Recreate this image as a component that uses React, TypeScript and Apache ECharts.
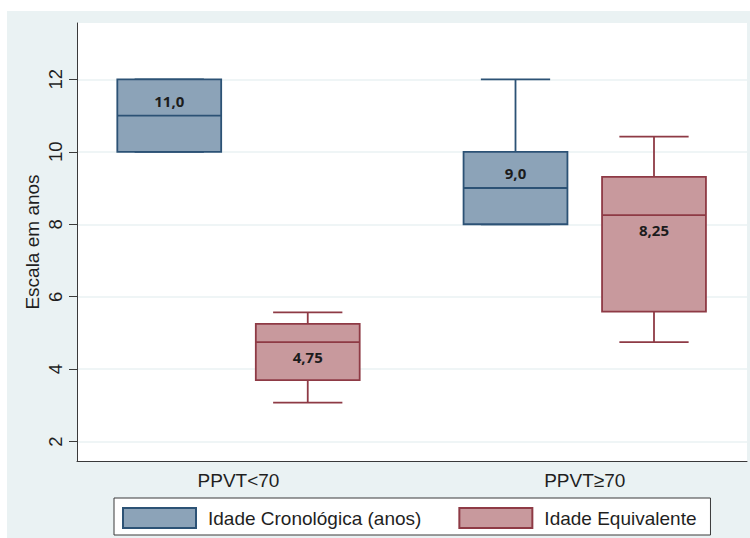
import React, { useEffect, useRef } from "react";
import * as echarts from "echarts";

// ---- data ----
const categories = ["PPVT<70", "PPVT≥70"];
const seriesNames = ["Idade Cronológica (anos)", "Idade Equivalente"];
// [groupIndex, min, Q1, median, Q3, max]
const cronologica = [
  [0, 10, 10, 11, 12, 12],
  [1, 8, 8, 9, 10, 12],
];
const equivalente = [
  [0, 3.08, 3.7, 4.75, 5.25, 5.57],
  [1, 4.75, 5.59, 8.25, 9.31, 10.42],
];
const medianDecimals = [1, 2];
const yTicks = { min: 2, max: 12, interval: 2 };

// ---- styles ----
const FONT = '"Liberation Sans", Arial, sans-serif';
const fills = ["#8ca3b8", "#c8999d"];
const strokes = ["#2c5275", "#8e3a45"];
const offsets = [-0.2, 0.2];
const BOX_W = 0.3;
const CAP_W = 0.2;
const labelDir = [-1, 1];

export default function App() {
  const ref = useRef<HTMLDivElement>(null);
  useEffect(() => {
    if (!ref.current) return;
    const chart = echarts.init(ref.current, null, { renderer: "svg" });
    const renderItem = (params: any, api: any) => {
      const si = params.seriesIndex;
      const x = api.value(0) + offsets[si];
      const lo = api.coord([x, api.value(1)]);
      const q1 = api.coord([x, api.value(2)]);
      const med = api.coord([x, api.value(3)]);
      const q3 = api.coord([x, api.value(4)]);
      const hi = api.coord([x, api.value(5)]);
      const bw = api.size([BOX_W, 0])[0];
      const cw = api.size([CAP_W, 0])[0];
      const cx = med[0];
      const lineStyle = { stroke: strokes[si], lineWidth: 1.8 };
      const label = api
        .value(3)
        .toFixed(medianDecimals[si])
        .replace(".", ",");
      return {
        type: "group",
        children: [
          { type: "line", shape: { x1: cx, y1: q1[1], x2: cx, y2: lo[1] }, style: lineStyle },
          { type: "line", shape: { x1: cx - cw / 2, y1: lo[1], x2: cx + cw / 2, y2: lo[1] }, style: lineStyle },
          { type: "line", shape: { x1: cx, y1: q3[1], x2: cx, y2: hi[1] }, style: lineStyle },
          { type: "line", shape: { x1: cx - cw / 2, y1: hi[1], x2: cx + cw / 2, y2: hi[1] }, style: lineStyle },
          {
            type: "rect",
            shape: { x: cx - bw / 2, y: q3[1], width: bw, height: q1[1] - q3[1] },
            style: { fill: fills[si], stroke: strokes[si], lineWidth: 1.8 },
          },
          { type: "line", shape: { x1: cx - bw / 2, y1: med[1], x2: cx + bw / 2, y2: med[1] }, style: lineStyle },
          {
            type: "text",
            style: {
              text: label,
              x: cx,
              y: med[1] + labelDir[si] * 15,
              align: "center",
              verticalAlign: "middle",
              fontSize: 15,
              fontWeight: "bold",
              fontFamily: '"Open Sans", sans-serif',
              fill: "#1c1c1c",
            },
          },
        ],
      };
    };
    const makeSeries = (name: string, data: number[][], i: number) => ({
      type: "custom",
      name,
      xAxisIndex: 2,
      yAxisIndex: 2,
      data,
      encode: { x: 0, y: [1, 2, 3, 4, 5] },
      itemStyle: { color: fills[i], borderColor: strokes[i], borderWidth: 1.8 },
      renderItem,
      clip: false,
      z: 5,
    });
    chart.setOption({
      animation: false,
      textStyle: { fontFamily: FONT },
      grid: [
        { left: 77, top: 23, width: 670, height: 438, show: true, backgroundColor: "#ffffff", borderWidth: 0 },
        { left: 77, top: 79.3, width: 670, height: 362.4 },
        { left: 238.5, top: 79.3, width: 346.25, height: 362.4 },
      ],
      xAxis: [
        {
          gridIndex: 0, type: "value", min: 0, max: 1,
          axisLine: { show: true, onZero: false, lineStyle: { color: "#3a3a3a", width: 1 } },
          axisTick: { show: false }, axisLabel: { show: false }, splitLine: { show: false },
        },
        { gridIndex: 1, type: "value", min: 0, max: 1, show: false },
        {
          gridIndex: 2, type: "value", min: 0, max: 1, interval: 1,
          axisLine: { show: false }, axisTick: { show: false }, splitLine: { show: false },
          axisLabel: {
            formatter: (v: number) => categories[Math.round(v)],
            fontSize: 19, color: "#1f1f1f", margin: 29, fontFamily: FONT,
            showMinLabel: true, showMaxLabel: true,
          },
        },
      ],
      yAxis: [
        {
          gridIndex: 0, type: "value", min: 0, max: 1,
          name: "Escala em anos", nameLocation: "middle", nameGap: 35,
          nameTextStyle: { fontSize: 19, color: "#1f1f1f", fontFamily: FONT },
          axisLine: { show: true, onZero: false, lineStyle: { color: "#3a3a3a", width: 1 } },
          axisTick: { show: false }, axisLabel: { show: false }, splitLine: { show: false },
        },
        {
          gridIndex: 1, type: "value", min: yTicks.min, max: yTicks.max, interval: yTicks.interval,
          axisLine: { show: false },
          axisTick: { show: true, length: 8, lineStyle: { color: "#3a3a3a", width: 1 } },
          axisLabel: { rotate: 90, fontSize: 18.5, color: "#1f1f1f", margin: 12, fontFamily: FONT },
          splitLine: { show: true, lineStyle: { color: "#eaf2f3", width: 1.5 } },
        },
        { gridIndex: 2, type: "value", min: yTicks.min, max: yTicks.max, show: false },
      ],
      legend: {
        left: 114,
        top: 498,
        orient: "horizontal",
        backgroundColor: "#ffffff",
        borderColor: "#3a3a3a",
        borderWidth: 1,
        borderRadius: 0,
        padding: [9, 14, 6, 8],
        itemWidth: 73,
        itemHeight: 20,
        itemGap: 37,
        icon: "rect",
        data: seriesNames.map((n) => ({ name: n, icon: "rect" })),
        textStyle: { fontSize: 19, color: "#1f1f1f", fontFamily: FONT, padding: [0, 0, 0, 7] },
        selectedMode: false,
      },
      series: [makeSeries(seriesNames[0], cronologica, 0), makeSeries(seriesNames[1], equivalente, 1)],
    });
    return () => chart.dispose();
  }, []);
  return (
    <div style={{ position: "absolute", left: 0, top: 0, width: 750, height: 538, background: "#ffffff" }}>
      <div style={{ position: "absolute", left: 7, top: 11, width: 743, height: 527, background: "#eaf2f3" }} />
      <div ref={ref} style={{ position: "absolute", left: 0, top: 0, width: 750, height: 538 }} />
    </div>
  );
}
